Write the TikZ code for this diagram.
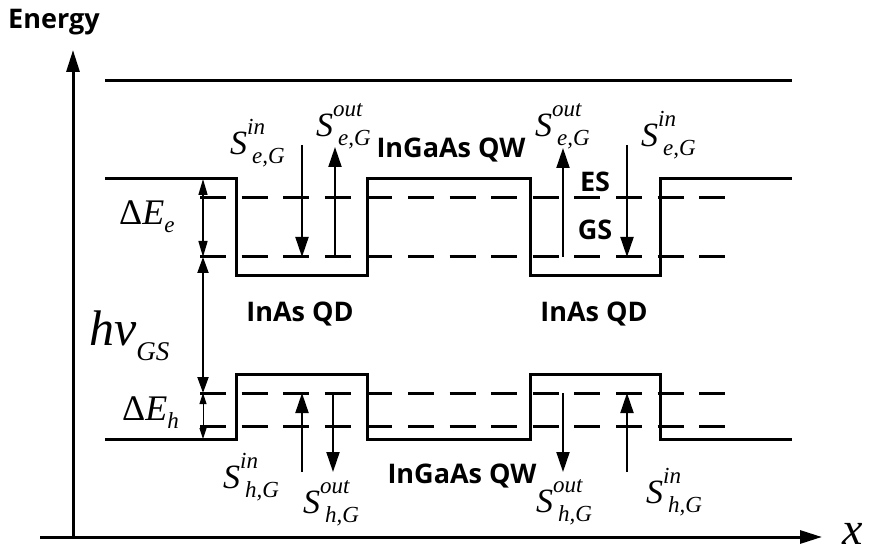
\documentclass[tikz,border=0pt]{standalone}
\usepackage{fontspec}
\setmainfont{Open Sans}
\newfontfamily\tim{Liberation Serif}
\usetikzlibrary{arrows.meta}
\newcommand\sz{\fontsize{23}{23}\selectfont}
\newcommand\Slab[2]{S\makebox[0pt][l]{\raisebox{20pt}{\sz #1}}\kern5pt\raisebox{-9pt}{\sz #2}}
\begin{document}
\begin{tikzpicture}[x=1pt,y=-1pt,
  band/.style={line width=3pt},
  lvl/.style={line width=3pt, dash pattern=on 26pt off 15.6pt},
  axis/.style={line width=3pt, -{Triangle[length=22pt,width=13pt]}},
  sarr/.style={line width=2pt, -{Triangle[length=20pt,width=13pt]}},
  lab/.style={font=\fontsize{27}{29}\selectfont\bfseries, inner sep=0pt},
  sl/.style={font=\tim\itshape\fontsize{34}{36}\selectfont, inner sep=0pt, anchor=base west},
]
\useasboundingbox (0,0) rectangle (876,556);

% axes
\coordinate (o) at (73,537);
\coordinate (ytop) at (73,50);
\coordinate (xl) at (40,537);
\coordinate (xr) at (822,537);
\draw[axis] (o) -- (ytop);
\draw[axis] (xl) -- (xr);
\node[lab, anchor=base west] (energy) at (8,29) {Energy};
\node[font=\tim\itshape\fontsize{46}{48}\selectfont, inner sep=0pt, anchor=base west] (xlab) at (842,544) {x};

% bands
\draw[band] (105,81) -- (792,81);
\draw[band] (105,179) -- (236,179) -- (236,276) -- (367,276) -- (367,179) -- (530,179)
  -- (530,276) -- (660,276) -- (660,179) -- (792,179);
\draw[band] (105,439) -- (236,439) -- (236,374) -- (367,374) -- (367,439) -- (530,439)
  -- (530,374) -- (660,374) -- (660,439) -- (792,439);

% levels
\draw[lvl] (200,198) -- (726,198);
\draw[lvl] (200,257) -- (726,257);
\draw[lvl] (200,393) -- (726,393);
\draw[lvl] (200,426) -- (726,426);

% gap arrows
\coordinate (e1) at (203,179);
\coordinate (e2) at (203,257);
\coordinate (h1) at (203,393);
\coordinate (h2) at (203,439);
\draw[line width=1.5pt, {Triangle[length=16pt,width=9pt]}-{Triangle[length=16pt,width=9pt]}] (e1) -- (e2);
\draw[line width=2pt, {Triangle[length=16pt,width=11pt]}-{Triangle[length=16pt,width=11pt]}] (e2) -- (h1);
\draw[line width=1pt, {Triangle[length=11pt,width=7pt]}-{Triangle[length=11pt,width=7pt]}] (h1) -- (h2);

\node[font=\tim\fontsize{36}{38}\selectfont, inner sep=0pt, anchor=base west] (dEe) at (119,225)
  {Δ\textit{E}\raisebox{-8pt}{\itshape\sz e}};
\node[font=\tim\fontsize{36}{38}\selectfont, inner sep=0pt, anchor=base west] (dEh) at (122,420)
  {Δ\textit{E}\raisebox{-8pt}{\itshape\sz h}};
\node[font=\tim\itshape\fontsize{50}{52}\selectfont, inner sep=0pt, anchor=base west] (hv) at (89,345)
  {hν\raisebox{-15pt}{\fontsize{27}{27}\selectfont GS}};

% scattering arrows (electrons)
\coordinate (a1s) at (302,145); \coordinate (a1e) at (302,257);
\coordinate (a2s) at (335,257); \coordinate (a2e) at (335,147);
\coordinate (a3s) at (563,257); \coordinate (a3e) at (563,148);
\coordinate (a4s) at (627,145); \coordinate (a4e) at (627,257);
\draw[sarr] (a1s) -- (a1e);
\draw[sarr] (a2s) -- (a2e);
\draw[sarr] (a3s) -- (a3e);
\draw[sarr] (a4s) -- (a4e);

% scattering arrows (holes)
\coordinate (b1s) at (302,472); \coordinate (b1e) at (302,393);
\coordinate (b2s) at (333,393); \coordinate (b2e) at (333,472);
\coordinate (b3s) at (563,393); \coordinate (b3e) at (563,472);
\coordinate (b4s) at (627,472); \coordinate (b4e) at (627,393);
\draw[sarr] (b1s) -- (b1e);
\draw[sarr] (b2s) -- (b2e);
\draw[sarr] (b3s) -- (b3e);
\draw[sarr] (b4s) -- (b4e);

% S labels
\node[sl] (sein1) at (230,155) {\Slab{in}{e,G}};
\node[sl] (seout1) at (316,137) {\Slab{out}{e,G}};
\node[sl] (seout2) at (535,137) {\Slab{out}{e,G}};
\node[sl] (sein2) at (641,147) {\Slab{in}{e,G}};
\node[sl] (shin1) at (223,488) {\Slab{in}{h,G}};
\node[sl] (shout1) at (303,513) {\Slab{out}{h,G}};
\node[sl] (shout2) at (536,512) {\Slab{out}{h,G}};
\node[sl] (shin2) at (646,503) {\Slab{in}{h,G}};

% text labels
\node[lab, anchor=base] (qwtop) at (451,158) {InGaAs QW};
\node[lab, anchor=base] (qwbot) at (462,483) {InGaAs QW};
\node[lab, anchor=base] (qd1) at (300,322) {InAs QD};
\node[lab, anchor=base] (qd2) at (594,322) {InAs QD};
\node[lab, anchor=base] (es) at (595,192) {ES};
\node[lab, anchor=base] (gs) at (595,240) {GS};
\end{tikzpicture}
\end{document}
